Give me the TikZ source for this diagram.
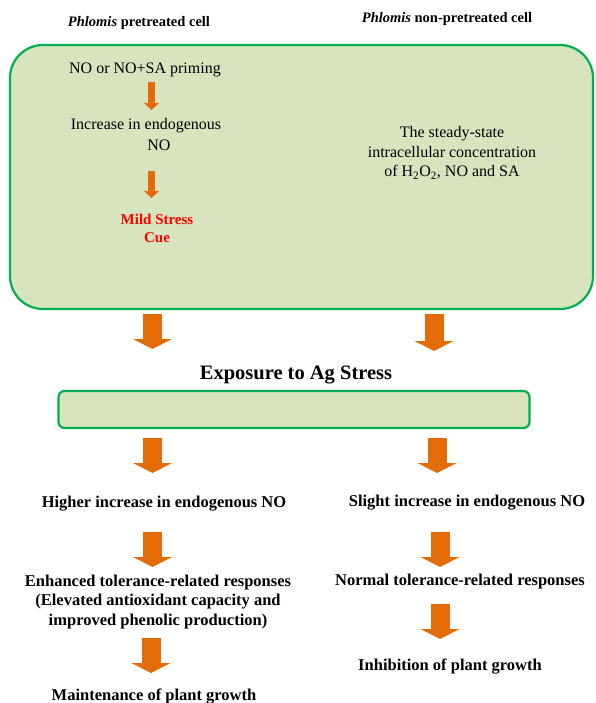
\documentclass[tikz,border=0pt]{standalone}
\usepackage{fontspec}
\setmainfont{Liberation Serif}
\usetikzlibrary{arrows.meta}
\definecolor{arr}{RGB}{227,108,9}
\definecolor{boxline}{RGB}{0,176,80}
\definecolor{boxfill}{RGB}{215,228,189}
\definecolor{cue}{RGB}{255,0,0}
\tikzset{
  reg/.style={inner sep=0pt, align=center, font=\fontsize{16}{19.5}\selectfont},
  bld/.style={inner sep=0pt, align=center, font=\fontsize{16.5}{19.5}\selectfont\bfseries},
  ttl/.style={inner sep=0pt, font=\fontsize{14.5}{17}\selectfont\bfseries},
  cellbox/.style={draw=boxline, fill=boxfill, line width=2.2pt, inner sep=0pt},
  bigarr/.style={draw=arr, line width=19pt, -{Triangle[width=39pt,length=10pt,line width=0pt]}},
  smallarr/.style={draw=arr, line width=7pt, -{Triangle[width=15pt,length=7pt,line width=0pt]}}
}
\begin{document}
\begin{tikzpicture}[x=1pt,y=1pt]
\useasboundingbox (0,0) rectangle (596,-703);
% titles
\node[ttl] (tleft) at (139,-23) {\textit{Phlomis} pretreated cell};
\node[ttl] (tright) at (447,-19) {\textit{Phlomis} non-pretreated cell};
% big box
\node[cellbox, rounded corners=33pt, minimum width=583pt, minimum height=264pt] (cell) at (301.5,-177) {};
\node[reg] (prime) at (145,-70) {NO or NO+SA priming};
\coordinate (p1s) at (151.5,-82); \coordinate (p1e) at (151.5,-110);
\draw[smallarr] (p1s) -- (p1e);
\node[reg] (inc1) at (146,-126) {Increase in endogenous};
\node[reg] (inc2) at (159,-145) {NO};
\coordinate (p2s) at (151.5,-171); \coordinate (p2e) at (151.5,-198);
\draw[smallarr] (p2s) -- (p2e);
\node[bld, font=\fontsize{15}{18}\selectfont\bfseries, text=cue] (cue) at (157,-228) {Mild Stress\\Cue};
\node[reg] (steady) at (452,-153) {The steady-state\\intracellular concentration\\of H\textsubscript{2}O\textsubscript{2}, NO and SA};
% arrows below big box
\coordinate (a1s) at (152.5,-314); \coordinate (a1e) at (152.5,-349);
\draw[bigarr] (a1s) -- (a1e);
\coordinate (b1s) at (434,-314); \coordinate (b1e) at (434,-351);
\draw[bigarr] (b1s) -- (b1e);
\node[bld, font=\fontsize{20.5}{24}\selectfont\bfseries] (expo) at (296,-375) {Exposure to Ag Stress};
\node[cellbox, rounded corners=6pt, minimum width=471pt, minimum height=37pt] (agbox) at (294,-409.5) {};
\coordinate (a2s) at (152.5,-438); \coordinate (a2e) at (152.5,-473);
\draw[bigarr] (a2s) -- (a2e);
\coordinate (b2s) at (437,-438); \coordinate (b2e) at (437,-473);
\draw[bigarr] (b2s) -- (b2e);
\node[bld] (high) at (164,-504) {Higher increase in endogenous NO};
\node[bld] (slight) at (467,-503) {Slight increase in endogenous NO};
\coordinate (a3s) at (152.5,-532); \coordinate (a3e) at (152.5,-567);
\draw[bigarr] (a3s) -- (a3e);
\coordinate (b3s) at (440,-532); \coordinate (b3e) at (440,-567);
\draw[bigarr] (b3s) -- (b3e);
\node[bld] (enh) at (158,-602) {Enhanced tolerance-related responses\\(Elevated antioxidant capacity and\\improved phenolic production)};
\node[bld] (norm) at (460,-582) {Normal tolerance-related responses};
\coordinate (a4s) at (151,-638); \coordinate (a4e) at (151,-673);
\draw[bigarr] (a4s) -- (a4e);
\coordinate (b4s) at (440,-604); \coordinate (b4e) at (440,-639);
\draw[bigarr] (b4s) -- (b4e);
\node[bld] (maint) at (154,-697) {Maintenance of plant growth};
\node[bld] (inhib) at (450,-667) {Inhibition of plant growth};
\end{tikzpicture}
\end{document}
